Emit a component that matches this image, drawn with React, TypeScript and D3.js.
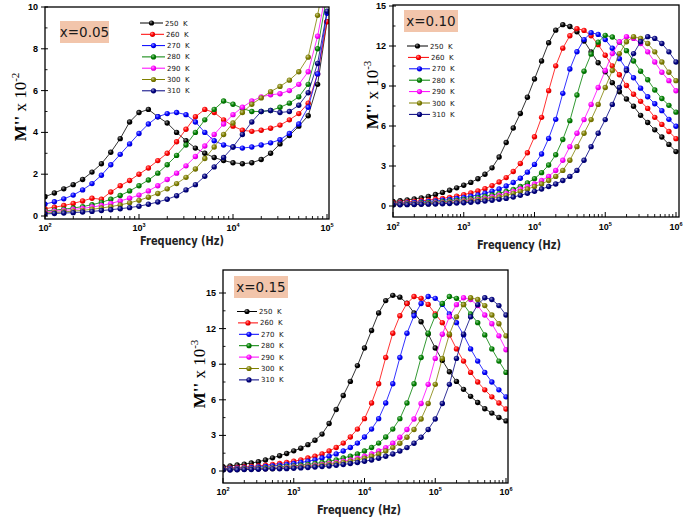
import React from "react";
import * as d3 from "d3";

// ---------------- DATA ----------------
const TEMP_LABELS = ["250", "260", "270", "280", "290", "300", "310"];
const SERIES_COLORS = ["#000000", "#ff0000", "#0000ff", "#008000", "#ff00ff", "#808000", "#000080"];

// panel A (x = 0.05): log10 frequency and M'' (x 10^-2)
const LOGF_A = [2.0, 2.1, 2.2, 2.3, 2.4, 2.5, 2.6, 2.7, 2.8, 2.9, 3.0, 3.1, 3.2, 3.3, 3.4, 3.5, 3.6, 3.7, 3.8, 3.9, 4.0, 4.1, 4.2, 4.3, 4.4, 4.5, 4.6, 4.7, 4.8, 4.9, 5.0];
const A_250 = [0.92, 1.1, 1.3, 1.5, 1.75, 2.1, 2.5, 3.05, 3.7, 4.5, 4.95, 5.1, 4.75, 4.45, 4.0, 3.6, 3.25, 3.0, 2.8, 2.65, 2.55, 2.5, 2.55, 2.7, 3.0, 3.45, 3.85, 4.3, 4.8, 6.3, 9.3];
const A_260 = [0.35, 0.42, 0.5, 0.6, 0.72, 0.85, 0.8, 1.15, 1.45, 1.7, 2.0, 2.3, 2.65, 3.0, 3.55, 4.15, 4.75, 5.1, 4.95, 4.6, 4.3, 4.1, 4.05, 4.1, 4.2, 4.35, 4.6, 4.9, 5.4, 6.8, 9.3];
const A_270 = [0.57, 0.68, 0.82, 1.0, 1.25, 1.55, 1.95, 2.45, 2.95, 3.45, 3.95, 4.4, 4.75, 4.9, 4.95, 4.85, 4.5, 4.0, 3.6, 3.4, 3.3, 3.25, 3.3, 3.4, 3.5, 3.65, 3.95, 4.4, 5.2, 6.8, 9.7];
const A_280 = [0.25, 0.28, 0.33, 0.38, 0.45, 0.54, 0.65, 0.8, 0.98, 1.2, 1.45, 1.72, 2.05, 2.45, 2.9, 3.4, 4.0, 4.6, 5.1, 5.5, 5.35, 5.15, 5.0, 5.0, 5.05, 5.2, 5.4, 5.7, 6.3, 8.0, 10.6];
const A_290 = [0.2, 0.23, 0.27, 0.31, 0.36, 0.43, 0.5, 0.6, 0.72, 0.85, 1.0, 1.2, 1.45, 1.75, 2.05, 2.4, 2.85, 3.35, 3.9, 4.4, 4.85, 5.2, 5.5, 5.7, 5.8, 5.85, 6.0, 6.3, 6.9, 8.6, 11.0];
const A_300 = [0.15, 0.17, 0.2, 0.23, 0.27, 0.32, 0.38, 0.45, 0.53, 0.63, 0.75, 0.9, 1.08, 1.3, 1.55, 1.85, 2.25, 2.75, 3.3, 3.9, 4.45, 4.95, 5.35, 5.65, 5.95, 6.2, 6.5, 6.9, 7.6, 9.6, 12.0];
const A_310 = [0.1, 0.12, 0.14, 0.16, 0.19, 0.22, 0.26, 0.3, 0.35, 0.4, 0.47, 0.56, 0.67, 0.8, 0.97, 1.25, 1.5, 1.9, 2.35, 2.8, 3.3, 3.9, 4.5, 5.0, 5.05, 4.95, 5.0, 5.3, 5.9, 7.3, 9.8];

// panels B (x = 0.10) and C (x = 0.15): log10 frequency and M'' (x 10^-3)
const LOGF_BC = [2.0, 2.1, 2.2, 2.3, 2.4, 2.5, 2.6, 2.7, 2.8, 2.9, 3.0, 3.1, 3.2, 3.3, 3.4, 3.5, 3.6, 3.7, 3.8, 3.9, 4.0, 4.1, 4.2, 4.3, 4.4, 4.5, 4.6, 4.7, 4.8, 4.9, 5.0, 5.1, 5.2, 5.3, 5.4, 5.5, 5.6, 5.7, 5.8, 5.9, 6.0];
const B_250 = [0.34, 0.39, 0.46, 0.53, 0.61, 0.72, 0.86, 1.02, 1.18, 1.36, 1.56, 1.77, 2.04, 2.38, 2.86, 3.67, 4.76, 5.85, 6.94, 8.16, 9.52, 10.88, 12.24, 13.19, 13.60, 13.46, 13.06, 12.38, 11.56, 10.74, 10.06, 9.25, 8.57, 8.02, 7.48, 6.80, 6.26, 5.71, 5.17, 4.62, 4.08];
const B_260 = [0.24, 0.27, 0.31, 0.35, 0.39, 0.44, 0.51, 0.57, 0.65, 0.74, 0.85, 0.98, 1.13, 1.30, 1.53, 1.80, 2.13, 2.59, 3.19, 3.99, 5.19, 6.65, 8.65, 10.51, 11.84, 12.77, 13.30, 13.17, 12.77, 12.10, 11.31, 10.51, 9.84, 9.04, 8.38, 7.85, 7.32, 6.65, 6.12, 5.59, 5.05];
const B_270 = [0.18, 0.21, 0.23, 0.26, 0.30, 0.34, 0.38, 0.43, 0.49, 0.56, 0.64, 0.73, 0.83, 0.96, 1.11, 1.27, 1.50, 1.76, 2.08, 2.54, 3.12, 3.90, 5.07, 6.50, 8.45, 10.27, 11.57, 12.48, 13.00, 12.87, 12.48, 11.83, 11.05, 10.27, 9.62, 8.84, 8.19, 7.67, 7.15, 6.50, 5.98];
const B_280 = [0.15, 0.17, 0.18, 0.20, 0.23, 0.26, 0.29, 0.33, 0.37, 0.42, 0.49, 0.55, 0.63, 0.72, 0.82, 0.95, 1.09, 1.25, 1.47, 1.73, 2.05, 2.50, 3.07, 3.84, 4.99, 6.40, 8.32, 10.11, 11.39, 12.29, 12.80, 12.67, 12.29, 11.65, 10.88, 10.11, 9.47, 8.70, 8.06, 7.55, 7.04];
const B_290 = [0.11, 0.13, 0.14, 0.15, 0.17, 0.19, 0.22, 0.24, 0.28, 0.32, 0.37, 0.43, 0.50, 0.57, 0.67, 0.80, 0.95, 1.10, 1.27, 1.46, 1.65, 1.91, 2.22, 2.67, 3.43, 4.45, 5.46, 6.48, 7.62, 8.89, 10.16, 11.43, 12.32, 12.70, 12.57, 12.19, 11.56, 10.80, 10.03, 9.40, 8.64];
const B_300 = [0.10, 0.11, 0.13, 0.14, 0.15, 0.17, 0.19, 0.22, 0.24, 0.28, 0.32, 0.37, 0.43, 0.50, 0.57, 0.67, 0.80, 0.95, 1.10, 1.27, 1.46, 1.65, 1.91, 2.22, 2.67, 3.43, 4.45, 5.46, 6.48, 7.62, 8.89, 10.16, 11.43, 12.32, 12.70, 12.57, 12.19, 11.56, 10.80, 10.03, 9.40];
const B_310 = [0.08, 0.09, 0.10, 0.11, 0.13, 0.14, 0.15, 0.17, 0.19, 0.22, 0.24, 0.28, 0.32, 0.37, 0.43, 0.50, 0.57, 0.67, 0.80, 0.95, 1.10, 1.27, 1.46, 1.65, 1.91, 2.22, 2.67, 3.43, 4.45, 5.46, 6.48, 7.62, 8.89, 10.16, 11.43, 12.32, 12.70, 12.57, 12.19, 11.56, 10.80];

const C_250 = [0.37, 0.43, 0.50, 0.58, 0.67, 0.78, 0.93, 1.11, 1.29, 1.48, 1.70, 1.92, 2.22, 2.59, 3.11, 4.00, 5.18, 6.36, 7.55, 8.88, 10.36, 11.84, 13.32, 14.36, 14.80, 14.65, 14.13, 13.32, 12.58, 11.54, 10.36, 9.32, 8.36, 7.55, 6.88, 6.29, 5.77, 5.25, 4.88, 4.51, 4.22];
const C_260 = [0.24, 0.26, 0.29, 0.34, 0.38, 0.43, 0.49, 0.56, 0.63, 0.72, 0.82, 0.94, 1.09, 1.25, 1.44, 1.69, 1.98, 2.35, 2.87, 3.53, 4.41, 5.73, 7.35, 9.56, 11.61, 13.08, 14.11, 14.70, 14.55, 14.04, 13.23, 12.50, 11.47, 10.29, 9.26, 8.31, 7.50, 6.84, 6.25, 5.73, 5.22];
const C_270 = [0.19, 0.21, 0.24, 0.26, 0.29, 0.34, 0.38, 0.43, 0.49, 0.56, 0.63, 0.72, 0.82, 0.94, 1.09, 1.25, 1.44, 1.69, 1.98, 2.35, 2.87, 3.53, 4.41, 5.73, 7.35, 9.56, 11.61, 13.08, 14.11, 14.70, 14.55, 14.04, 13.23, 12.50, 11.47, 10.29, 9.26, 8.31, 7.50, 6.84, 6.25];
const C_280 = [0.15, 0.16, 0.18, 0.19, 0.21, 0.24, 0.26, 0.29, 0.34, 0.38, 0.43, 0.49, 0.56, 0.63, 0.72, 0.82, 0.94, 1.09, 1.25, 1.44, 1.69, 1.98, 2.35, 2.87, 3.53, 4.41, 5.73, 7.35, 9.56, 11.61, 13.08, 14.11, 14.70, 14.55, 14.04, 13.23, 12.50, 11.47, 10.29, 9.26, 8.31];
const C_290 = [0.12, 0.13, 0.15, 0.16, 0.18, 0.19, 0.20, 0.23, 0.26, 0.29, 0.34, 0.38, 0.42, 0.48, 0.55, 0.63, 0.72, 0.82, 0.93, 1.08, 1.24, 1.43, 1.68, 1.97, 2.34, 2.85, 3.50, 4.38, 5.69, 7.30, 9.49, 11.53, 12.99, 14.02, 14.60, 14.45, 13.94, 13.14, 12.41, 11.39, 10.22];
const C_300 = [0.10, 0.12, 0.13, 0.15, 0.16, 0.18, 0.19, 0.20, 0.23, 0.26, 0.29, 0.34, 0.38, 0.42, 0.48, 0.55, 0.63, 0.72, 0.82, 0.93, 1.08, 1.24, 1.43, 1.68, 1.97, 2.34, 2.85, 3.50, 4.38, 5.69, 7.30, 9.49, 11.53, 12.99, 14.02, 14.60, 14.45, 13.94, 13.14, 12.41, 11.39];
const C_310 = [0.09, 0.09, 0.10, 0.12, 0.13, 0.15, 0.16, 0.18, 0.19, 0.20, 0.23, 0.26, 0.29, 0.34, 0.38, 0.42, 0.48, 0.55, 0.63, 0.72, 0.82, 0.93, 1.08, 1.24, 1.43, 1.68, 1.97, 2.34, 2.85, 3.50, 4.38, 5.69, 7.30, 9.49, 11.53, 12.99, 14.02, 14.60, 14.45, 13.94, 13.14];

const Y_TICKS_A = [0, 2, 4, 6, 8, 10];
const Y_MINOR_A = [1, 3, 5, 7, 9];
const Y_TICKS_BC = [0, 3, 6, 9, 12, 15];
const Y_MINOR_BC = [1.5, 4.5, 7.5, 10.5, 13.5];
const X_EXP_A = [2, 3, 4, 5];
const X_EXP_BC = [2, 3, 4, 5, 6];
const BADGES = ["x=0.05", "x=0.10", "x=0.15"];
const EXP_A = "-2";
const EXP_BC = "-3";

// ---------------- RENDERING ----------------
const TICK_FONT = "'Liberation Sans', Arial, sans-serif";

function Panel(p: any) {
  const { id, frame, xRange, yRange, yMax, logf, series, yTicks, yMinor, xExps, exp, yTitle, freq, badge, badgeText, legend } = p;
  const x = d3.scaleLog().domain([10 ** xExps[0], 10 ** xExps[xExps.length - 1]]).range(xRange);
  const y = d3.scaleLinear().domain([0, yMax]).range(yRange);
  const line = d3.line<number>().x((_, i) => x(10 ** logf[i])).y((d) => y(d));
  const minor: number[] = [];
  for (let e = 0; e < xExps.length - 1; e++) for (let k = 2; k <= 9; k++) minor.push(k * 10 ** xExps[e]);
  const W = frame.r - frame.l;
  const H = frame.b - frame.t;
  return (
    <g>
      <defs>
        <clipPath id={id + "clip"}>
          <rect x={frame.l} y={frame.t} width={W} height={H} />
        </clipPath>
      </defs>
      <g clipPath={`url(#${id}clip)`}>
        {series.map((s: number[], i: number) => (
          <g key={i}>
            <path d={line(s) || ""} fill="none" stroke={SERIES_COLORS[i]} strokeWidth={0.8} />
            {s.map((v, j) => (
              <circle key={j} cx={x(10 ** logf[j])} cy={y(v)} r={2.7} fill={`url(#ball${i})`} />
            ))}
          </g>
        ))}
      </g>
      <rect x={frame.l} y={frame.t} width={W} height={H} fill="none" stroke="#000" strokeWidth={1.3} />
      {xExps.map((e: number) => (
        <g key={e}>
          <line x1={x(10 ** e)} x2={x(10 ** e)} y1={frame.b} y2={frame.b - 5} stroke="#000" strokeWidth={1} />
          <text x={x(10 ** e)} y={frame.b + freq.tickDy} textAnchor="middle" fontFamily={TICK_FONT} fontWeight="bold" fontSize={9}>
            10<tspan dy={-4} fontSize={5.5}>{e}</tspan>
          </text>
        </g>
      ))}
      {minor.map((v) => (
        <line key={v} x1={x(v)} x2={x(v)} y1={frame.b} y2={frame.b - 3} stroke="#000" strokeWidth={0.9} />
      ))}
      {yTicks.map((v: number) => (
        <g key={v}>
          <line x1={frame.l - 4} x2={frame.l + 3} y1={y(v)} y2={y(v)} stroke="#000" strokeWidth={1} />
          <text x={frame.l - 7} y={y(v) + 3} textAnchor="end" fontFamily={TICK_FONT} fontWeight="bold" fontSize={9}>
            {v}
          </text>
        </g>
      ))}
      {yMinor.map((v: number) => (
        <line key={v} x1={frame.l} x2={frame.l + 2.5} y1={y(v)} y2={y(v)} stroke="#000" strokeWidth={0.9} />
      ))}
      <text transform={`translate(${yTitle.x},${yTitle.y}) rotate(-90)`} textAnchor="middle" fontFamily="'Liberation Serif', 'Times New Roman', serif" fontSize={17}>
        <tspan fontWeight="bold">M''</tspan>
        <tspan> x 10</tspan>
        <tspan dy={-7} fontSize={11}>{exp}</tspan>
      </text>
      <text x={freq.x} y={freq.y} textAnchor="middle" fontFamily="'DejaVu Sans', sans-serif" fontWeight="bold" fontSize={12.5} textLength={84} lengthAdjust="spacingAndGlyphs" fill="#222">
        Frequency (Hz)
      </text>
      <rect x={badge.x} y={badge.y} width={badge.w} height={badge.h} fill="#f2c5ab" />
      <text x={badge.x + badge.w / 2} y={badge.y + badge.h / 2 + 5} textAnchor="middle" fontFamily="'DejaVu Sans', sans-serif" fontSize={13.5} fill="#1a1a1a">
        {badgeText}
      </text>
      {TEMP_LABELS.map((t, i) => {
        const ly = legend.y0 + i * legend.dy;
        const off = i === 0 ? 0 : i === 1 ? 1 : 2;
        return (
          <g key={t}>
            <line x1={legend.x1 + off} x2={legend.x2 + off} y1={ly} y2={ly} stroke={SERIES_COLORS[i]} strokeWidth={1} />
            <circle cx={(legend.x1 + legend.x2) / 2 + off} cy={ly} r={2.6} fill={`url(#ball${i})`} />
            <text x={legend.tx + off} y={ly + 2.5} fontFamily="'DejaVu Sans', sans-serif" fontSize={7} fill="#111">
              {t}
            </text>
            <text x={legend.tx + off + 18} y={ly + 2.5} fontFamily="'DejaVu Sans', sans-serif" fontSize={7} fill="#111">
              K
            </text>
          </g>
        );
      })}
    </g>
  );
}

export default function App() {
  const seriesA = [A_250, A_260, A_270, A_280, A_290, A_300, A_310];
  const seriesB = [B_250, B_260, B_270, B_280, B_290, B_300, B_310];
  const seriesC = [C_250, C_260, C_270, C_280, C_290, C_300, C_310];
  return (
    <svg width={685} height={522} style={{ position: "absolute", left: 0, top: 0, background: "#fff" }}>
      <defs>
        {SERIES_COLORS.map((c, i) => {
          const light = d3.interpolateRgb(c, "#ffffff")(0.55);
          const dark = (d3.color(c) as any).darker(0.6).formatHex();
          return (
            <radialGradient key={i} id={`ball${i}`} cx="38%" cy="35%" r="65%">
              <stop offset="0%" stopColor={light} />
              <stop offset="55%" stopColor={c} />
              <stop offset="100%" stopColor={dark} />
            </radialGradient>
          );
        })}
      </defs>
      <rect x={0} y={0} width={685} height={522} fill="#fff" />
      <Panel
        id="pa"
        frame={{ l: 45, t: 7, r: 329, b: 219 }}
        xRange={[45, 327]}
        yRange={[216, 7]}
        yMax={10}
        logf={LOGF_A}
        series={seriesA}
        yTicks={Y_TICKS_A}
        yMinor={Y_MINOR_A}
        xExps={X_EXP_A}
        exp={EXP_A}
        yTitle={{ x: 26, y: 107 }}
        freq={{ x: 182, y: 245, tickDy: 12 }}
        badge={{ x: 60, y: 21, w: 49, h: 22 }}
        badgeText={BADGES[0]}
        legend={{ x1: 140, x2: 163, tx: 165, y0: 23, dy: 11.3 }}
      />
      <Panel
        id="pb"
        frame={{ l: 393, t: 5, r: 679, b: 217 }}
        xRange={[393, 676]}
        yRange={[206, 6]}
        yMax={15}
        logf={LOGF_BC}
        series={seriesB}
        yTicks={Y_TICKS_BC}
        yMinor={Y_MINOR_BC}
        xExps={X_EXP_BC}
        exp={EXP_BC}
        yTitle={{ x: 378, y: 95 }}
        freq={{ x: 519, y: 249, tickDy: 13 }}
        badge={{ x: 404, y: 10, w: 54, h: 22 }}
        badgeText={BADGES[1]}
        legend={{ x1: 407, x2: 428, tx: 430, y0: 46, dy: 11.4 }}
      />
      <Panel
        id="pc"
        frame={{ l: 223, t: 270, r: 508, b: 483 }}
        xRange={[223, 506]}
        yRange={[471, 293]}
        yMax={15}
        logf={LOGF_BC}
        series={seriesC}
        yTicks={Y_TICKS_BC}
        yMinor={Y_MINOR_BC}
        xExps={X_EXP_BC}
        exp={EXP_BC}
        yTitle={{ x: 205, y: 374 }}
        freq={{ x: 359, y: 514, tickDy: 12 }}
        badge={{ x: 234, y: 276, w: 54, h: 22 }}
        badgeText={BADGES[2]}
        legend={{ x1: 237, x2: 257, tx: 259, y0: 311.5, dy: 11.4 }}
      />
    </svg>
  );
}
